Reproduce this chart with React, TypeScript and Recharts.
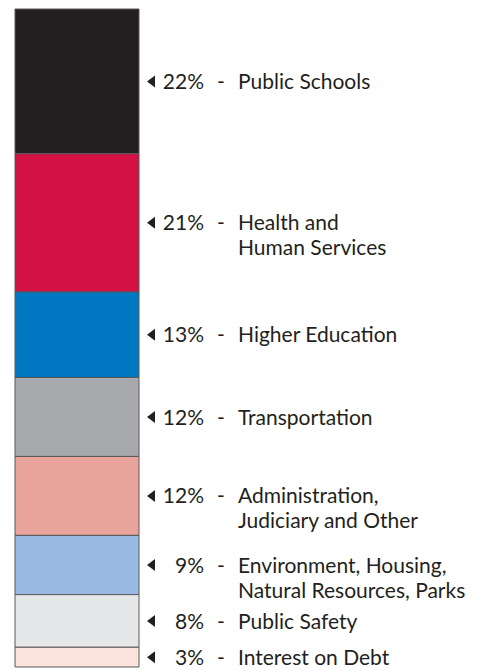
import { BarChart, Bar, XAxis, YAxis } from "recharts";

// budget shares, top of the column first
const categories = [
  "Public Schools",
  "Health and Human Services",
  "Higher Education",
  "Transportation",
  "Administration, Judiciary and Other",
  "Environment, Housing, Natural Resources, Parks",
  "Public Safety",
  "Interest on Debt",
];
const shares = [22, 21, 13, 12, 12, 9, 8, 3];
const labelLines = [
  ["Public Schools"],
  ["Health and", "Human Services"],
  ["Higher Education"],
  ["Transportation"],
  ["Administration,", "Judiciary and Other"],
  ["Environment, Housing,", "Natural Resources, Parks"],
  ["Public Safety"],
  ["Interest on Debt"],
];

const COLORS = [
  "#231f20",
  "#d31145",
  "#0077c0",
  "#a7a9ac",
  "#e8a39b",
  "#97b9e2",
  "#e6e7e8",
  "#fbe3dd",
];

const row: Record<string, number | string> = { name: "budget" };
categories.forEach((c, i) => {
  row[`s${i}`] = shares[i];
});
const data = [row];

const FONT = "Lato, 'Open Sans', sans-serif";
const FS = 21;

function makeLabel(i: number) {
  return (props: any) => {
    const x = Number(props.x);
    const y = Number(props.y);
    const w = Number(props.width);
    const h = Number(props.height);
    const cy = y + h / 2;
    const tx = x + w + 8;
    const lines = labelLines[i];
    return (
      <g>
        <path
          d={`M${tx},${cy} L${tx + 8},${cy - 6} L${tx + 8},${cy + 6} Z`}
          fill="#231f20"
        />
        <text
          x={x + w + 65}
          y={cy}
          dy="0.36em"
          textAnchor="end"
          fontSize={FS}
          fill="#231f20"
          fontFamily={FONT}
        >
          {`${shares[i]}%`}
        </text>
        <text
          x={x + w + 82}
          y={cy}
          dy="0.36em"
          textAnchor="middle"
          fontSize={FS}
          fill="#231f20"
          fontFamily={FONT}
        >
          -
        </text>
        {lines.map((ln, k) => (
          <text
            key={k}
            x={x + w + 99}
            y={cy + k * 25}
            dy="0.36em"
            fontSize={FS}
            fill="#231f20"
            fontFamily={FONT}
          >
            {ln}
          </text>
        ))}
      </g>
    );
  };
}

export default function App() {
  return (
    <div style={{ position: "absolute", left: 0, top: 0, background: "#fff" }}>
      <BarChart
        width={477}
        height={671}
        data={data}
        margin={{ top: 9, right: 338, bottom: 4, left: 15 }}
        barCategoryGap={0}
      >
        <XAxis dataKey="name" hide />
        <YAxis hide domain={[0, 100]} reversed />
        {categories.map((c, i) => (
          <Bar
            key={c}
            dataKey={`s${i}`}
            name={c}
            stackId="a"
            fill={COLORS[i]}
            stroke="#58595b"
            strokeWidth={1}
            isAnimationActive={false}
            label={makeLabel(i)}
          />
        ))}
      </BarChart>
    </div>
  );
}
